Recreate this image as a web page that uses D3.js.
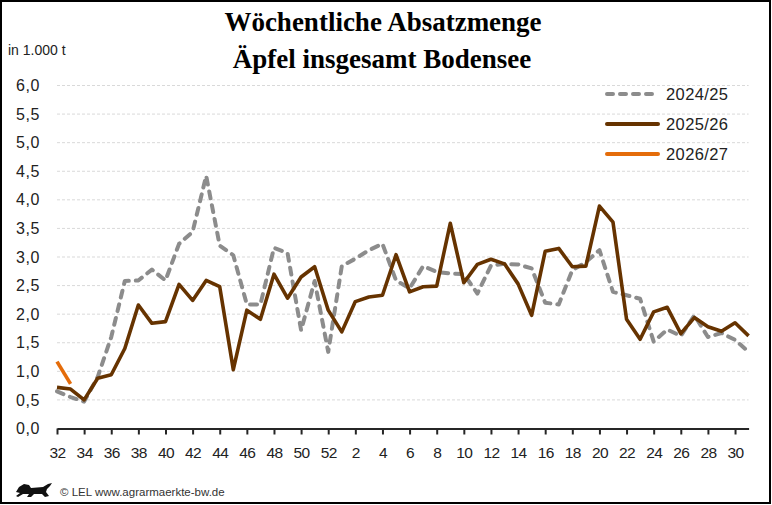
<!DOCTYPE html>
<html><head><meta charset="utf-8">
<script src="https://cdn.jsdelivr.net/npm/d3@7"></script>
<style>
html,body{margin:0;padding:0;background:#fff;}
svg{display:block;}
</style></head>
<body>
<svg id="chart" width="772" height="505"></svg>
<script>
// ---- data ----
const weeks = ["32","33","34","35","36","37","38","39","40","41","42","43","44","45","46","47","48","49","50","51","52",
  "1","2","3","4","5","6","7","8","9","10","11","12","13","14","15","16","17","18","19","20","21","22","23","24","25","26","27","28","29","30","31"];
const tickWeeks = ["32","34","36","38","40","42","44","46","48","50","52","2","4","6","8","10","12","14","16","18","20","22","24","26","28","30"];
const yTicks = [0,0.5,1,1.5,2,2.5,3,3.5,4,4.5,5,5.5,6];
const seriesNames = ["2024/25","2025/26","2026/27"];
const s2024 = [0.65,0.55,0.47,0.90,1.60,2.58,2.59,2.78,2.59,3.23,3.44,4.42,3.20,3.03,2.17,2.17,3.16,3.07,1.72,2.58,1.34,
  2.84,2.97,3.12,3.23,2.59,2.45,2.84,2.74,2.71,2.70,2.36,2.85,2.88,2.87,2.80,2.20,2.17,2.77,2.91,3.12,2.39,2.33,2.27,1.52,1.73,1.62,1.98,1.60,1.67,1.55,1.34];
const s2025 = [0.72,0.69,0.50,0.88,0.94,1.40,2.16,1.84,1.87,2.52,2.24,2.59,2.48,1.03,2.07,1.91,2.70,2.28,2.65,2.83,2.07,
  1.69,2.22,2.30,2.33,3.04,2.39,2.48,2.49,3.59,2.55,2.87,2.96,2.88,2.53,1.98,3.10,3.15,2.83,2.84,3.89,3.61,1.91,1.56,2.04,2.12,1.66,1.94,1.78,1.70,1.85,1.62];
const s2026 = [1.17,0.78];

const svg = d3.select("#chart");
const W = 772, H = 505;

svg.append("rect").attr("x",1).attr("y",1).attr("width",W-3).attr("height",H-3)
  .attr("fill","#fff").attr("stroke","#000").attr("stroke-width",2);

const x = d3.scalePoint().domain(weeks).range([57, 748.6]).padding(0);
const y = d3.scaleLinear().domain([0,6]).range([428.5, 85.5]);
const loc = d3.formatLocale({decimal:",", thousands:".", grouping:[3], currency:["","€"]});
const fmt = loc.format(".1f");

// title
const title = svg.append("g").attr("font-family","'Liberation Serif','Times New Roman',serif")
  .attr("font-weight","bold").attr("font-size",27).attr("fill","#000").attr("text-anchor","middle");
title.append("text").attr("x",383).attr("y",31).text("Wöchentliche Absatzmenge");
title.append("text").attr("x",382).attr("y",68).text("Äpfel insgesamt Bodensee");

svg.append("text").attr("x",8).attr("y",55).attr("font-family","'Liberation Sans',Arial,sans-serif")
  .attr("font-size",14).attr("fill","#222").text("in 1.000 t");

// gridlines
svg.append("g").selectAll("line").data(yTicks.filter(d=>d>0)).join("line")
  .attr("x1",57).attr("x2",748.6).attr("y1",d=>y(d)).attr("y2",d=>y(d))
  .attr("stroke","#d9d9d9").attr("stroke-width",1).attr("stroke-dasharray","3,2");

// y labels
svg.append("g").selectAll("text").data(yTicks).join("text")
  .attr("x",40).attr("y",d=>y(d)).attr("dy","0.35em").attr("text-anchor","end")
  .attr("font-family","'Liberation Sans',Arial,sans-serif").attr("font-size",16)
  .attr("letter-spacing",0.6).attr("fill","#222").text(d=>fmt(d));

// x axis
const xa = svg.append("g").attr("transform",`translate(0,${y(0)})`)
  .call(d3.axisBottom(x).tickValues(tickWeeks).tickSize(6).tickSizeOuter(0));
xa.select(".domain").attr("stroke","#262626").attr("stroke-width",2.2);
xa.selectAll(".tick line").attr("stroke","#262626").attr("stroke-width",2);
xa.selectAll(".tick text").attr("y",24).attr("dy","0.35em")
  .attr("font-family","'Liberation Sans',Arial,sans-serif").attr("font-size",15.5)
  .attr("letter-spacing",-0.6).attr("fill","#222");

// lines
const line = d3.line().x((d,i)=>x(weeks[i])).y(d=>y(d));
const plot = svg.append("g").attr("fill","none").attr("stroke-linejoin","round");
plot.append("path").datum(s2024).attr("d",line).attr("stroke","#8c8c8c")
  .attr("stroke-width",4).attr("stroke-dasharray","7,7").attr("stroke-linecap","round");
plot.append("path").datum(s2025).attr("d",line).attr("stroke","#663300").attr("stroke-width",3.6);
plot.append("path").datum(s2026).attr("d",line).attr("stroke","#e46c0a").attr("stroke-width",3.6);

// legend
const lg = svg.append("g").attr("font-family","'Liberation Sans',Arial,sans-serif").attr("font-size",16.5).attr("fill","#222");
const legendStyle = [
  {c:"#8c8c8c", dash:"6,7", w:4},
  {c:"#663300", dash:null, w:4},
  {c:"#e46c0a", dash:null, w:4}
];
seriesNames.forEach((n,i)=>{
  const yy = 94 + i*30;
  const s = legendStyle[i];
  lg.append("line").attr("x1",607).attr("x2",658).attr("y1",yy).attr("y2",yy)
    .attr("stroke",s.c).attr("stroke-width",s.w).attr("stroke-linecap","round")
    .attr("stroke-dasharray",s.dash);
  lg.append("text").attr("x",666).attr("y",yy).attr("dy","0.35em").attr("letter-spacing",0.4).text(n);
});

// footer
svg.append("path").attr("fill","#111")
  .attr("d","M16,492 L19,487 L24,484 L29,485 L31,488 L43,487 L48,484 L52,483 L50,486 L47,489 L46,492 L49,496 L45,497 L42,494 L34,494 L31,497 L27,497 L29,494 L23,494 L18,497 L16,496 L20,493 Z");
svg.append("text").attr("x",60).attr("y",492).attr("dy","0.35em")
  .attr("font-family","'Liberation Sans',Arial,sans-serif").attr("font-size",11.5).attr("fill","#333")
  .text("© LEL www.agrarmaerkte-bw.de");
</script>
</body></html>
